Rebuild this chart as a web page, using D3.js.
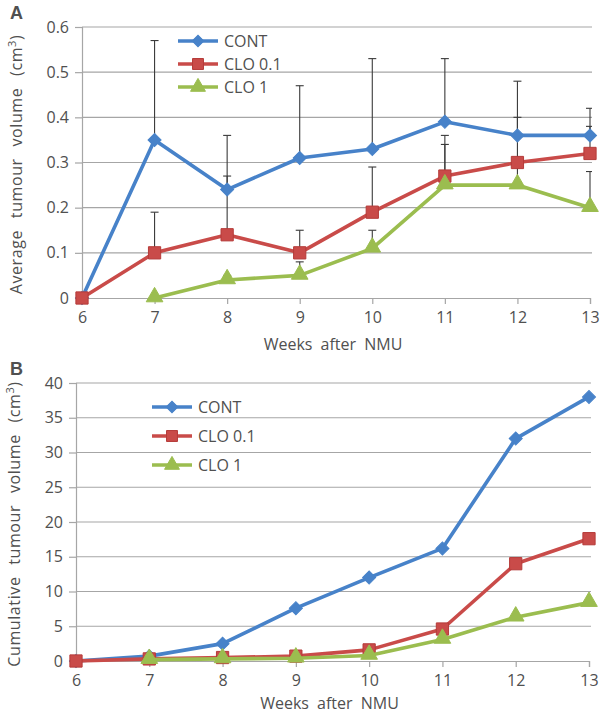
<!DOCTYPE html>
<html>
<head>
<meta charset="utf-8">
<script src="https://cdn.jsdelivr.net/npm/d3@7"></script>
<style>
  body { margin: 0; background: #fff; }
  text { font-family: "Open Sans", "Liberation Sans", sans-serif; fill: #505050; }
</style>
</head>
<body>
<svg id="chart" width="601" height="716"></svg>
<script>
// weeks after NMU
const weeks = [6, 7, 8, 9, 10, 11, 12, 13];
const seriesNames = ["CONT", "CLO 0.1", "CLO 1"];

// panel A - average tumour volume (cm3)
const avgCont  = [0, 0.35, 0.24, 0.31, 0.33, 0.39, 0.36, 0.36];
const avgClo01 = [0, 0.10, 0.14, 0.10, 0.19, 0.27, 0.30, 0.32];
const avgClo1  = [null, 0, 0.04, 0.05, 0.11, 0.25, 0.25, 0.20];
// upper error bars (size above the mean)
const errCont  = [0, 0.22, 0.12, 0.16, 0.20, 0.14, 0.12, 0.06];
const errClo01 = [0, 0.09, 0.13, 0.05, 0.10, 0.09, 0.10, 0.06];
const errClo1  = [null, 0, 0.01, 0.03, 0.04, 0.09, 0.05, 0.08];
const ticksA = [0, 0.1, 0.2, 0.3, 0.4, 0.5, 0.6];

// panel B - cumulative tumour volume (cm3)
const cumCont  = [0, 0.7, 2.5, 7.6, 12.0, 16.2, 32.0, 38.0];
const cumClo01 = [0, 0.3, 0.5, 0.7, 1.6, 4.6, 14.0, 17.6];
const cumClo1  = [null, 0.2, 0.3, 0.4, 0.8, 3.1, 6.3, 8.4];
const ticksB = [0, 5, 10, 15, 20, 25, 30, 35, 40];

const colors = ["#4782c9", "#c94b49", "#9bbd4f"];
const markerStroke = ["#4782c9", "#b53b39", "#9bbd4f"];
// diamond = square turned 45 degrees
const symbols = [d3.symbolSquare, d3.symbolSquare, d3.symbolTriangle];
const symbolRot = [45, 0, 0];
const symbolSizes = [85, 150, 120];

const svg = d3.select("#chart");

function drawPanel(opt) {
  const g = svg.append("g");
  const x = d3.scaleLinear().domain([6, 13]).range([opt.left, opt.right]);
  const y = d3.scaleLinear().domain([0, opt.max]).range([opt.bottom, opt.top]);

  // gridlines
  g.selectAll("line.grid").data(opt.ticks.slice(1)).enter().append("line")
    .attr("x1", opt.left).attr("x2", opt.right + 2)
    .attr("y1", d => y(d)).attr("y2", d => y(d))
    .attr("stroke", "#a6a6a6").attr("stroke-width", 1.2);

  // y axis
  const yAxis = d3.axisLeft(y).tickValues(opt.ticks).tickSize(7).tickPadding(6)
    .tickFormat(opt.fmt);
  const ya = g.append("g").attr("transform", `translate(${opt.left},0)`).call(yAxis);
  ya.select(".domain").attr("stroke", "#a6a6a6").attr("stroke-width", 1.2);
  ya.selectAll(".tick line").attr("stroke", "#a6a6a6").attr("stroke-width", 1.2);
  ya.selectAll("text").style("font-size", "16px").attr("fill", "#505050");

  // x axis
  const xAxis = d3.axisBottom(x).tickValues(weeks).tickSize(6).tickPadding(8)
    .tickFormat(d3.format("d"));
  const xa = g.append("g").attr("transform", `translate(0,${opt.bottom})`).call(xAxis);
  xa.select(".domain").attr("stroke", "#a6a6a6").attr("stroke-width", 1.2);
  xa.selectAll(".tick line").attr("stroke", "#a6a6a6").attr("stroke-width", 1.2);
  xa.selectAll("text").style("font-size", "16px").attr("fill", "#505050");

  // axis titles
  g.append("text")
    .attr("x", (opt.left + opt.right) / 2 - 3).attr("y", opt.bottom + opt.xtitleGap)
    .attr("text-anchor", "middle").style("font-size", "16px").style("word-spacing", "4px")
    .text("Weeks after NMU");

  const yt = g.append("text")
    .attr("transform", `translate(${opt.titleX},${(opt.top + opt.bottom) / 2 + 2}) rotate(-90)`)
    .attr("text-anchor", "middle").style("font-size", "16px")
    .style("word-spacing", "7px").style("letter-spacing", "0.6px");
  yt.append("tspan").text(opt.ytitle + " (cm");
  yt.append("tspan").attr("dy", -6).style("font-size", "11px").text("3");
  yt.append("tspan").attr("dy", 6).text(")");

  // panel letter
  g.append("text").attr("x", 10).attr("y", opt.top - 8)
    .style("font-family", "Liberation Sans, Arial, sans-serif")
    .style("font-weight", "bold").style("font-size", "18px").attr("fill", "#000")
    .text(opt.letter);

  // error bars
  if (opt.errs) {
    opt.errs.forEach((err, s) => {
      const pts = weeks.map((w, i) => ({ w, v: opt.series[s][i], e: err[i] }))
        .filter(d => d.v !== null && d.e > 0);
      const eg = g.append("g").attr("stroke", "#3a3a3a").attr("stroke-width", 1.1);
      eg.selectAll("line.v").data(pts).enter().append("line")
        .attr("x1", d => x(d.w)).attr("x2", d => x(d.w))
        .attr("y1", d => y(d.v)).attr("y2", d => y(d.v + d.e));
      eg.selectAll("line.c").data(pts).enter().append("line")
        .attr("x1", d => x(d.w) - 4).attr("x2", d => Math.min(x(d.w) + 4, opt.right + 2))
        .attr("y1", d => y(d.v + d.e)).attr("y2", d => y(d.v + d.e));
    });
  }

  // lines and markers
  const line = d3.line().defined(d => d.v !== null).x(d => x(d.w)).y(d => y(d.v));
  opt.series.forEach((vals, s) => {
    const pts = weeks.map((w, i) => ({ w, v: vals[i] }));
    g.append("path").datum(pts).attr("d", line)
      .attr("fill", "none").attr("stroke", colors[s]).attr("stroke-width", 3.6)
      .attr("stroke-linejoin", "round");
    g.selectAll(null).data(pts.filter(d => d.v !== null)).enter().append("path")
      .attr("d", d3.symbol().type(symbols[s]).size(symbolSizes[s]))
      .attr("transform", d => `translate(${x(d.w)},${y(d.v) + (s === 2 ? -1 : 0)}) rotate(${symbolRot[s]})`)
      .attr("fill", colors[s]).attr("stroke", markerStroke[s]).attr("stroke-width", 1);
  });

  // legend
  seriesNames.forEach((name, s) => {
    const ly = opt.legY[s];
    g.append("line").attr("x1", opt.legX).attr("x2", opt.legX + 40)
      .attr("y1", ly).attr("y2", ly)
      .attr("stroke", colors[s]).attr("stroke-width", 3.6);
    g.append("path")
      .attr("d", d3.symbol().type(symbols[s]).size(symbolSizes[s] * 0.8))
      .attr("transform", `translate(${opt.legX + 20},${ly}) rotate(${symbolRot[s]})`)
      .attr("fill", colors[s]).attr("stroke", markerStroke[s]).attr("stroke-width", 1);
    g.append("text").attr("x", opt.legX + 46).attr("y", ly + 6)
      .style("font-size", "16px").text(name);
  });
}

drawPanel({
  letter: "A", left: 82, right: 590, top: 27, bottom: 298, max: 0.6,
  ticks: ticksA, fmt: d => d === 0 ? "0" : d3.format(".1f")(d),
  series: [avgCont, avgClo01, avgClo1], errs: [errCont, errClo01, errClo1],
  ytitle: "Average tumour volume", titleX: 22, xtitleGap: 52,
  legX: 178, legY: [41, 64, 87]
});

drawPanel({
  letter: "B", left: 76, right: 589, top: 383, bottom: 661, max: 40,
  ticks: ticksB, fmt: d3.format("d"),
  series: [cumCont, cumClo01, cumClo1], errs: null,
  ytitle: "Cumulative tumour volume", titleX: 20, xtitleGap: 48,
  legX: 152, legY: [407, 436, 465]
});
</script>
</body>
</html>
